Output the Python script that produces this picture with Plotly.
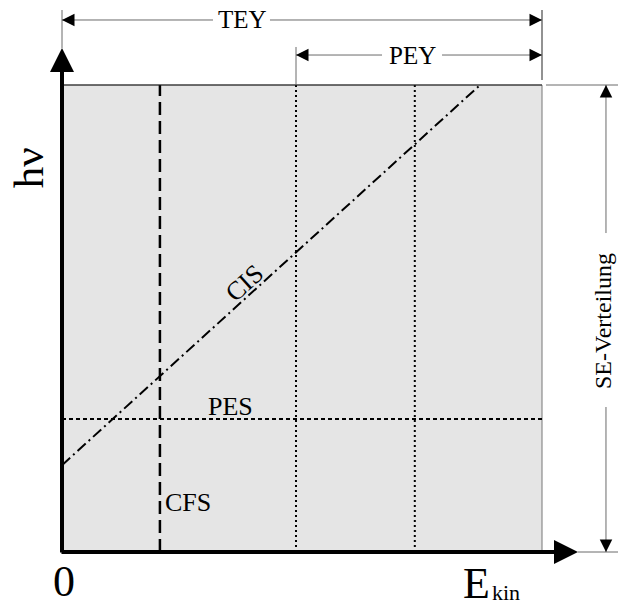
import plotly.graph_objects as go

# Normalised energy axes: E_kin and h*nu both run from 0 to 1 over the
# measured window.
E_MAX = 1.0
HV_MAX = 1.0

# Constant-final-state scan (fixed kinetic energy)
cfs_energy = 0.204
# Partial electron yield window: lower kinetic-energy cut-offs
pey_cuts = [0.4875, 0.735]
# Photoemission spectrum (fixed photon energy)
pes_photon = 0.285
# Constant-initial-state scan: E_kin rises with h*nu
cis_energy = [0.0, 0.871]
cis_photon = [0.186, 1.0]

# Label positions (data units)
label_text = ["CIS", "PES", "CFS"]
label_x = [0.379, 0.352, 0.2625]
label_y = [0.576, 0.3126, 0.107]
label_angle = [-42, 0, 0]

# Extent of the page in data units
x_range = [-0.129167, 1.158333]
y_range = [-0.11991, 1.18201]

FONT = "Liberation Serif"
THIN = "#6a6a6a"

fig = go.Figure()

# CFS: dashed vertical line
fig.add_trace(go.Scatter(
    x=[cfs_energy, cfs_energy], y=[0, HV_MAX], mode="lines",
    line=dict(color="black", width=2.5, dash="13px,6px"), hoverinfo="skip"))

# PEY cut-offs: dotted vertical lines
for xc in pey_cuts:
    fig.add_trace(go.Scatter(
        x=[xc, xc], y=[0, HV_MAX], mode="lines",
        line=dict(color="black", width=2, dash="2px,3px"), hoverinfo="skip"))

# PES: dotted horizontal line
fig.add_trace(go.Scatter(
    x=[0, E_MAX], y=[pes_photon, pes_photon], mode="lines",
    line=dict(color="black", width=2, dash="4px,3px"), hoverinfo="skip"))

# CIS: dash-dot diagonal
fig.add_trace(go.Scatter(
    x=cis_energy, y=cis_photon, mode="lines",
    line=dict(color="black", width=2, dash="11px,4px,2px,4px"), hoverinfo="skip"))

# Shaded measurement window
fig.add_shape(type="rect", x0=0, x1=E_MAX, y0=0, y1=HV_MAX,
              fillcolor="#e5e5e5", line=dict(color="#777", width=1), layer="below")
fig.add_shape(type="line", x0=0, x1=E_MAX, y0=HV_MAX, y1=HV_MAX,
              line=dict(color="#222", width=1))

# Dimension lines (broken where their label sits) and extension lines
tey_y = 1.1392
pey_y = 1.0642
tick_top = 1.1606
se_x = 1.1333
tey_gap = [0.3146, 0.4333]
pey_gap = [0.6667, 0.7917]
se_gap = [0.3105, 0.683]
for x0, y0, x1, y1, w in [
    (0, 1.0792, 0, tick_top, 1),                    # TEY left extension
    (E_MAX, 1.0107, E_MAX, tick_top, 1.6),          # TEY/PEY right extension
    (pey_cuts[0], HV_MAX, pey_cuts[0], 1.0814, 1),  # PEY left extension
    (1.0083, HV_MAX, x_range[1], HV_MAX, 1),        # SE top extension
    (1.075, 0, x_range[1], 0, 1),                   # SE bottom extension
    (0, tey_y, tey_gap[0], tey_y, 1),               # TEY span
    (tey_gap[1], tey_y, E_MAX, tey_y, 1),
    (pey_cuts[0], pey_y, pey_gap[0], pey_y, 1),     # PEY span
    (pey_gap[1], pey_y, E_MAX, pey_y, 1),
    (se_x, 0, se_x, se_gap[0], 1),                  # SE span
    (se_x, se_gap[1], se_x, HV_MAX, 1),
]:
    fig.add_shape(type="line", x0=x0, y0=y0, x1=x1, y1=y1,
                  line=dict(color=THIN if w == 1 else "#777", width=w))

annotations = []


def arrow(x0, y0, x1, y1, width, size):
    annotations.append(dict(
        x=x1, y=y1, ax=x0, ay=y0, xref="x", yref="y", axref="x", ayref="y",
        text="", showarrow=True, arrowhead=2, arrowsize=size, arrowwidth=width,
        arrowcolor="black"))


# Axes
arrow(0, -0.0043, 0, 1.0792, 4, 1.2)
arrow(-0.0042, 0, 1.075, 0, 4, 1.2)

# Black heads on the dimension lines
hx = 0.027   # head length along x
hy = 0.028   # head length along y
for x_tip, y_tip, dx, dy in [
    (0, tey_y, hx, 0), (E_MAX, tey_y, -hx, 0),
    (pey_cuts[0], pey_y, hx, 0), (E_MAX, pey_y, -hx, 0),
    (se_x, 0, 0, hy), (se_x, HV_MAX, 0, -hy),
]:
    arrow(x_tip + dx, y_tip + dy, x_tip, y_tip, 1, 2.5)

# Dimension labels
annotations.append(dict(x=0.377, y=tey_y, text="TEY", showarrow=False,
                        font=dict(family=FONT, size=25, color="black")))
annotations.append(dict(x=0.730, y=pey_y, text="PEY", showarrow=False,
                        font=dict(family=FONT, size=25, color="black")))
annotations.append(dict(x=1.127, y=0.4946, text="SE-Verteilung", showarrow=False,
                        textangle=-90, borderpad=0,
                        font=dict(family=FONT, size=24, color="black")))

# Axis titles
annotations.append(dict(x=-0.0708, y=0.822, text="hν", showarrow=False, textangle=-90,
                        font=dict(family=FONT, size=43, color="black")))
annotations.append(dict(x=0.004, y=-0.0642, text="0", showarrow=False,
                        font=dict(family=FONT, size=44, color="black")))
annotations.append(dict(x=0.8625, y=-0.0664, text="E", showarrow=False,
                        font=dict(family=FONT, size=44, color="black")))
annotations.append(dict(x=0.925, y=-0.0865, text="kin", showarrow=False,
                        font=dict(family=FONT, size=22, color="black")))

# Scan labels
for t, lx, ly, ang in zip(label_text, label_x, label_y, label_angle):
    annotations.append(dict(x=lx, y=ly, text=t, showarrow=False, textangle=ang,
                            font=dict(family=FONT, size=26, color="black")))

fig.update_layout(
    width=618, height=608, autosize=False,
    margin=dict(l=0, r=0, t=0, b=0, pad=0),
    paper_bgcolor="white", plot_bgcolor="white",
    showlegend=False,
    xaxis=dict(range=x_range, visible=False, fixedrange=True),
    yaxis=dict(range=y_range, visible=False, fixedrange=True),
    annotations=annotations,
)

fig.write_html("out.html")
